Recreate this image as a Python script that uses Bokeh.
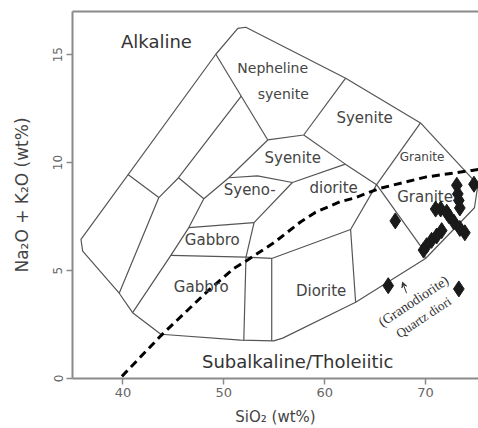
import math
from bokeh.plotting import figure
from bokeh.models import Range1d, LinearAxis, FixedTicker, Label, Arrow, VeeHead
from bokeh.embed import file_html
from bokeh.resources import INLINE

# ---- field boundaries (SiO2 wt%, Na2O+K2O wt%) ----
outer_sio2 = [43.76, 40.96, 39.63, 36.01, 35.84, 49.21, 51.39, 52.18, 62.08, 69.50,
              74.65, 75.15, 74.85, 70.00, 63.07, 55.84, 54.95, 51.68, 43.76]
outer_alk = [2.05, 3.05, 3.95, 5.90, 6.44, 15.02, 16.22, 16.27, 13.91, 11.84,
             9.25, 8.84, 7.91, 5.56, 3.53, 1.87, 1.74, 1.78, 2.05]
inner1_sio2 = [51.73, 45.51, 43.56, 39.63]
inner1_alk = [13.08, 9.30, 8.38, 3.95]
cross1_sio2 = [40.50, 43.56]
cross1_alk = [9.45, 8.38]
cross2_sio2 = [45.51, 48.02]
cross2_alk = [9.30, 8.33]
inner2_sio2 = [54.36, 50.50, 48.02, 46.53, 44.75, 40.96]
inner2_alk = [11.05, 9.30, 8.33, 6.99, 5.70, 3.05]
neph_left_sio2 = [49.21, 54.36]
neph_left_alk = [15.02, 11.05]
neph_bottom_sio2 = [54.36, 57.92, 62.08]
neph_bottom_alk = [11.05, 11.28, 13.91]
syenite_low_sio2 = [57.92, 62.05, 65.15, 69.50]
syenite_low_alk = [11.28, 9.93, 8.98, 11.84]
granite_low_sio2 = [65.15, 69.60, 70.00]
granite_low_alk = [8.98, 6.07, 5.56]
qdior_sio2 = [65.15, 62.57, 63.07]
qdior_alk = [8.98, 6.90, 3.53]
syeno_top_sio2 = [50.50, 53.34, 56.80, 62.05]
syeno_top_alk = [9.30, 9.39, 9.08, 9.93]
syeno_right_sio2 = [56.80, 53.00, 52.20, 51.98]
syeno_right_alk = [9.08, 7.22, 5.62, 1.75]
gabbro_top_sio2 = [46.53, 53.00]
gabbro_top_alk = [6.99, 7.22]
gabbro_bottom_sio2 = [44.75, 52.20, 54.75, 62.57]
gabbro_bottom_alk = [5.70, 5.62, 5.56, 6.90]
diorite_left_sio2 = [54.75, 54.75]
diorite_left_alk = [5.56, 1.74]

# ---- alkaline / subalkaline divide ----
divide_sio2 = [39.9, 43.8, 48.4, 51.0, 52.4, 55.0, 57.6, 59.1, 61.6, 62.9, 65.4, 70.0, 74.6, 75.25]
divide_alk = [0.1, 2.0, 4.05, 5.1, 5.5, 6.3, 7.25, 7.7, 8.2, 8.35, 8.8, 9.33, 9.64, 9.68]

# ---- samples ----
sample_sio2 = [67.0, 66.3, 73.3, 69.8, 70.1, 70.6, 71.1, 71.6, 71.0, 71.5,
               72.1, 72.3, 72.8, 73.4, 73.9, 73.1, 73.2, 73.3, 73.4, 74.8]
sample_alk = [7.3, 4.3, 4.15, 5.95, 6.15, 6.4, 6.6, 6.85, 7.85, 7.85,
              7.7, 7.55, 7.25, 6.95, 6.75, 8.95, 8.55, 8.25, 7.9, 9.0]

x_ticks = [40, 50, 60, 70]
y_ticks = [0, 5, 10, 15]

FONT = "DejaVu Sans"
AX = "#8a8a8a"

p = figure(width=478, height=428, output_backend="svg", toolbar_location=None,
           x_range=Range1d(35, 75.25), y_range=Range1d(0, 17),
           min_border_left=72, min_border_right=0, min_border_top=11, min_border_bottom=49)
p.grid.visible = False
p.outline_line_color = None
p.background_fill_color = "white"
p.border_fill_color = "white"

p.xaxis.ticker = FixedTicker(ticks=x_ticks)
p.yaxis.ticker = FixedTicker(ticks=y_ticks)
for ax in (p.xaxis[0], p.yaxis[0]):
    ax.axis_line_color = AX
    ax.axis_line_width = 2
    ax.major_tick_line_color = AX
    ax.major_tick_line_width = 1.5
    ax.major_tick_out = 6
    ax.major_tick_in = 0
    ax.minor_tick_line_color = None
    ax.major_label_text_color = "#666666"
    ax.major_label_text_font = FONT
    ax.axis_label_text_font = FONT
    ax.axis_label_text_font_style = "normal"
    ax.axis_label_text_color = "#444444"

xa = p.xaxis[0]
xa.major_label_text_font_size = "13px"
xa.major_label_standoff = 3
xa.axis_label = "SiO\u2082 (wt%)"
xa.axis_label_text_font_size = "15px"
xa.axis_label_standoff = 8

ya = p.yaxis[0]
ya.major_label_text_font_size = "12px"
ya.major_label_orientation = "vertical"
ya.major_label_standoff = 4
ya.axis_label = "Na\u2082O + K\u2082O (wt%)"
ya.axis_label_text_font_size = "17px"
ya.axis_label_standoff = 19

top = LinearAxis(ticker=FixedTicker(ticks=[]), axis_line_color=AX, axis_line_width=2,
                 major_label_text_font_size="0px", major_tick_out=0, major_tick_in=0,
                 minor_tick_out=0, minor_tick_in=0)
p.add_layout(top, "above")

xs = [outer_sio2, inner1_sio2, cross1_sio2, cross2_sio2, inner2_sio2, neph_left_sio2,
      neph_bottom_sio2, syenite_low_sio2, granite_low_sio2, qdior_sio2, syeno_top_sio2,
      syeno_right_sio2, gabbro_top_sio2, gabbro_bottom_sio2, diorite_left_sio2]
ys = [outer_alk, inner1_alk, cross1_alk, cross2_alk, inner2_alk, neph_left_alk,
      neph_bottom_alk, syenite_low_alk, granite_low_alk, qdior_alk, syeno_top_alk,
      syeno_right_alk, gabbro_top_alk, gabbro_bottom_alk, diorite_left_alk]
p.multi_line(xs=xs, ys=ys, line_color="#555555", line_width=1.2, line_join="round")

p.line(divide_sio2, divide_alk, line_color="black", line_width=3, line_dash="8 5")


def lab(text, x, y, size, color="#444444", font=FONT, angle=0.0, align="center", style="normal"):
    p.add_layout(Label(x=x, y=y, text=text, text_font=font, text_font_size=size,
                       text_color=color, text_align=align, text_baseline="middle",
                       angle=angle, text_font_style=style))


lab("Alkaline", 43.32, 15.6, "18px", "#333333")
lab("Subalkaline/Tholeiitic", 57.33, 0.81, "18px", "#333333")
lab("Nepheline", 54.85, 14.4, "14px")
lab("syenite", 55.89, 13.2, "14px")
lab("Syenite", 63.96, 12.05, "15px")
lab("Syenite", 56.83, 10.2, "15px")
lab("Granite", 69.65, 10.25, "12px")
lab("Granite", 69.95, 8.4, "15px")
lab("Syeno-", 52.57, 8.72, "15px")
lab("diorite", 60.89, 8.81, "15px")
lab("Gabbro", 48.86, 6.41, "15px")
lab("Gabbro", 47.77, 4.23, "15px")
lab("Diorite", 59.65, 4.05, "15px")
ang = math.radians(33.5)
lab("(Granodiorite)", 68.81, 3.58, "14px", "#333333", "Liberation Serif", ang)
lab("Quartz diori", 69.8, 2.84, "13px", "#333333", "Liberation Serif", ang)

p.add_layout(Arrow(end=VeeHead(size=5, line_color="#333333", line_width=1),
                   x_start=68.12, y_start=3.95, x_end=67.72, y_end=4.46,
                   line_color="#333333", line_width=1))

r = p.scatter(sample_sio2, sample_alk, marker="diamond", size=16,
              fill_color="#1a1a1a", line_color="#1a1a1a")
r.level = "overlay"

open("out.html", "w").write(file_html(p, INLINE))
